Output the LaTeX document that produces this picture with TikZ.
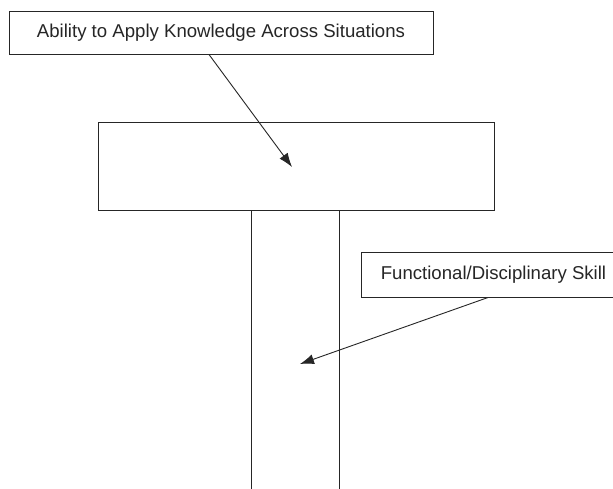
\documentclass[tikz,border=0pt]{standalone}
\usepackage{fontspec}
\setmainfont{Liberation Sans}
\usetikzlibrary{arrows.meta}
\begin{document}
\begin{tikzpicture}[x=1pt,y=-1pt,
  lbl/.style={draw=black!85, line width=1pt, fill=white, inner sep=0pt,
    font=\fontsize{18.6}{22}\selectfont, text=black!85},
  part/.style={draw=black!85, line width=1pt, inner sep=0pt},
  ptr/.style={draw=black!85, line width=0.9pt, -{Latex[length=14pt,width=10pt]}}]
\useasboundingbox (0,0) rectangle (613,488);
\clip (0,0) rectangle (613,488);
\fill[white] (0,0) rectangle (613,488);
% T shape
\node[part, minimum width=88pt, minimum height=284pt] (stem) at (295,352) {};
\node[part, fill=white, minimum width=396pt, minimum height=88pt] (bar) at (296,166) {};
% labels
\node[lbl, minimum width=424pt, minimum height=43pt] (ability) at (221,32.5) {Ability to Apply Knowledge Across Situations};
\node[lbl, minimum width=265pt, minimum height=45pt] (skill) at (493.5,274.5) {Functional/Disciplinary Skill};
% pointers
\coordinate (tipA) at (292,167);
\coordinate (tipB) at (300,364);
\draw[ptr] ([xshift=-12pt]ability.south) -- (tipA);
\draw[ptr] ([xshift=-5.5pt]skill.south) -- (tipB);
\end{tikzpicture}
\end{document}
